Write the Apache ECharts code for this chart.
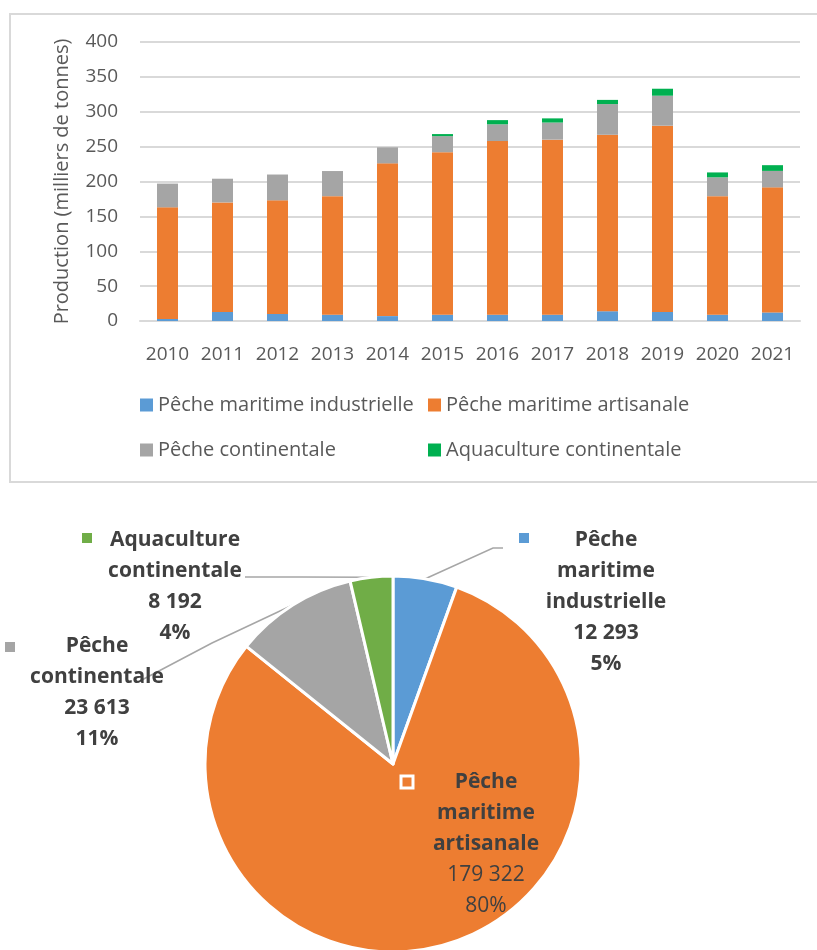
<!DOCTYPE html>
<html>
<head>
<meta charset="utf-8">
<script src="https://cdn.jsdelivr.net/npm/echarts@6/dist/echarts.min.js"></script>
<style>
  html, body { margin: 0; padding: 0; background: #fff; }
  #chart { width: 817px; height: 950px; }
</style>
</head>
<body>
<div id="chart"></div>
<script>
// Production halieutique annuelle (milliers de tonnes)
const years = ['2010', '2011', '2012', '2013', '2014', '2015', '2016', '2017', '2018', '2019', '2020', '2021'];
const industrielle = [3, 13, 10, 9, 7, 9, 9, 9, 14, 13, 9, 12.3];
const artisanale   = [160, 157, 163, 170, 219, 233, 249, 251, 253, 267, 170, 179.3];
const continentale = [34, 34, 37, 36, 23, 23, 24, 24.5, 44, 43, 27, 23.6];
const aquaculture  = [0, 0, 0, 0, 0, 3, 6, 6, 6, 10, 7, 8.2];

const seriesNames = ['Pêche maritime industrielle', 'Pêche maritime artisanale', 'Pêche continentale', 'Aquaculture continentale'];
const yTicks = { min: 0, max: 400, interval: 50 };

// Répartition 2021 (tonnes)
const pieValues = [12293, 179322, 23613, 8192];
const piePct = ['5%', '80%', '11%', '4%'];
const pieLabelWords = [['Pêche', 'maritime', 'industrielle'], ['Pêche', 'maritime', 'artisanale'], ['Pêche', 'continentale'], ['Aquaculture', 'continentale']];

const barColors = ['#5b9bd5', '#ed7d31', '#a5a5a5', '#00b050'];
const pieColors = ['#5b9bd5', '#ed7d31', '#a5a5a5', '#70ad47'];
const FONT = 'Open Sans';
const TXT = '#595959';

function fmtThousands(v) {
  return String(v).replace(/\B(?=(\d{3})+(?!\d))/g, ' ');
}

const chart = echarts.init(document.getElementById('chart'), null, { renderer: 'canvas' });

const barSeries = [industrielle, artisanale, continentale, aquaculture].map((arr, i) => ({
  name: seriesNames[i],
  type: 'bar',
  stack: 'prod',
  barWidth: 21,
  data: arr,
  itemStyle: { color: barColors[i] },
  emphasis: { disabled: true }
}));

// Label anchor points for the pie (top-centre of each text block)
const pieLabelAnchor = [
  { x: 606, y: 525 },
  { x: 486, y: 767 },
  { x: 97, y: 631 },
  { x: 175, y: 525 }
];
// Leader line bends / ends for the outside labels
const pieLeader = [
  [[493, 548], [503, 548]],
  null,
  [[212, 643], [138, 682]],
  [[300, 577], [245, 577]]
];

const option = {
  animation: false,
  backgroundColor: '#fff',
  textStyle: { fontFamily: FONT },
  graphic: [
    { type: 'rect', shape: { x: 10, y: 14, width: 820, height: 468 }, style: { fill: 'none', stroke: '#d9d9d9', lineWidth: 2 }, silent: true, z: -1 },
    // legend keys next to the pie labels
    { type: 'rect', shape: { x: 519, y: 533, width: 10, height: 10 }, style: { fill: pieColors[0] }, z: 10 },
    { type: 'rect', shape: { x: 82, y: 533, width: 10, height: 10 }, style: { fill: pieColors[3] }, z: 10 },
    { type: 'rect', shape: { x: 5, y: 642, width: 10, height: 10 }, style: { fill: pieColors[2] }, z: 10 },
    { type: 'rect', shape: { x: 401, y: 776, width: 12, height: 12 }, style: { fill: pieColors[1], stroke: '#fff', lineWidth: 3 }, z: 10 }
  ],
  legend: [
    {
      orient: 'vertical', left: 140, top: 395, itemGap: 25, padding: 0,
      itemWidth: 13, itemHeight: 13, icon: 'rect',
      data: [seriesNames[0], seriesNames[2]],
      textStyle: { fontFamily: FONT, fontSize: 20, color: TXT, lineHeight: 20 },
      selectedMode: false
    },
    {
      orient: 'vertical', left: 428, top: 395, itemGap: 25, padding: 0,
      itemWidth: 13, itemHeight: 13, icon: 'rect',
      data: [seriesNames[1], seriesNames[3]],
      textStyle: { fontFamily: FONT, fontSize: 20, color: TXT, lineHeight: 20 },
      selectedMode: false
    }
  ],
  grid: { left: 140, right: 17, top: 42, height: 279 },
  xAxis: {
    type: 'category',
    data: years,
    axisLine: { lineStyle: { color: '#d9d9d9', width: 2 } },
    axisTick: { show: false },
    axisLabel: { color: TXT, fontSize: 19, fontFamily: FONT, margin: 24, interval: 0 }
  },
  yAxis: {
    type: 'value',
    min: yTicks.min, max: yTicks.max, interval: yTicks.interval,
    name: 'Production (milliers de tonnes)',
    nameLocation: 'middle',
    nameGap: 68,
    nameTextStyle: { color: TXT, fontSize: 20, fontFamily: FONT },
    axisLine: { show: false },
    axisTick: { show: false },
    axisLabel: { color: TXT, fontSize: 19, fontFamily: FONT, margin: 22 },
    splitLine: { lineStyle: { color: '#d9d9d9', width: 2 } }
  },
  series: barSeries.concat([{
    type: 'pie',
    center: [393, 764],
    radius: 188,
    startAngle: 90,
    clockwise: true,
    silent: true,
    itemStyle: { borderColor: '#fff', borderWidth: 3 },
    label: {
      show: true,
      position: 'outside',
      align: 'center',
      color: '#404040',
      fontFamily: FONT,
      fontSize: 21,
      lineHeight: 31,
      formatter: (p) => {
        const i = p.dataIndex;
        const words = pieLabelWords[i].map(w => '{b|' + w + '}');
        const tail = i === 1 ? 'n' : 'b';
        words.push('{' + tail + '|' + fmtThousands(p.value) + '}');
        words.push('{' + tail + '|' + piePct[i] + '}');
        return words.join('\n');
      },
      rich: {
        b: { fontWeight: 'bold', fontSize: 21, lineHeight: 31, color: '#404040', fontFamily: FONT, align: 'center' },
        n: { fontWeight: 'normal', fontSize: 21, lineHeight: 31, color: '#404040', fontFamily: FONT, align: 'center' }
      }
    },
    labelLine: { show: true, length: 15, length2: 10, smooth: false, lineStyle: { color: '#a6a6a6', width: 1.5 } },
    labelLayout: (params) => {
      const i = params.dataIndex;
      const a = pieLabelAnchor[i];
      const out = { x: a.x, y: a.y, align: 'center', verticalAlign: 'top', hideOverlap: false };
      if (pieLeader[i] && params.labelLinePoints) {
        out.labelLinePoints = [params.labelLinePoints[0]].concat(pieLeader[i]);
      }
      return out;
    },
    data: pieValues.map((v, i) => {
      const d = { name: seriesNames[i], value: v, itemStyle: { color: pieColors[i] } };
      if (i === 1) {
        d.label = { position: 'inside' };
        d.labelLine = { show: false };
      }
      return d;
    })
  }])
};

chart.setOption(option);
</script>
</body>
</html>
